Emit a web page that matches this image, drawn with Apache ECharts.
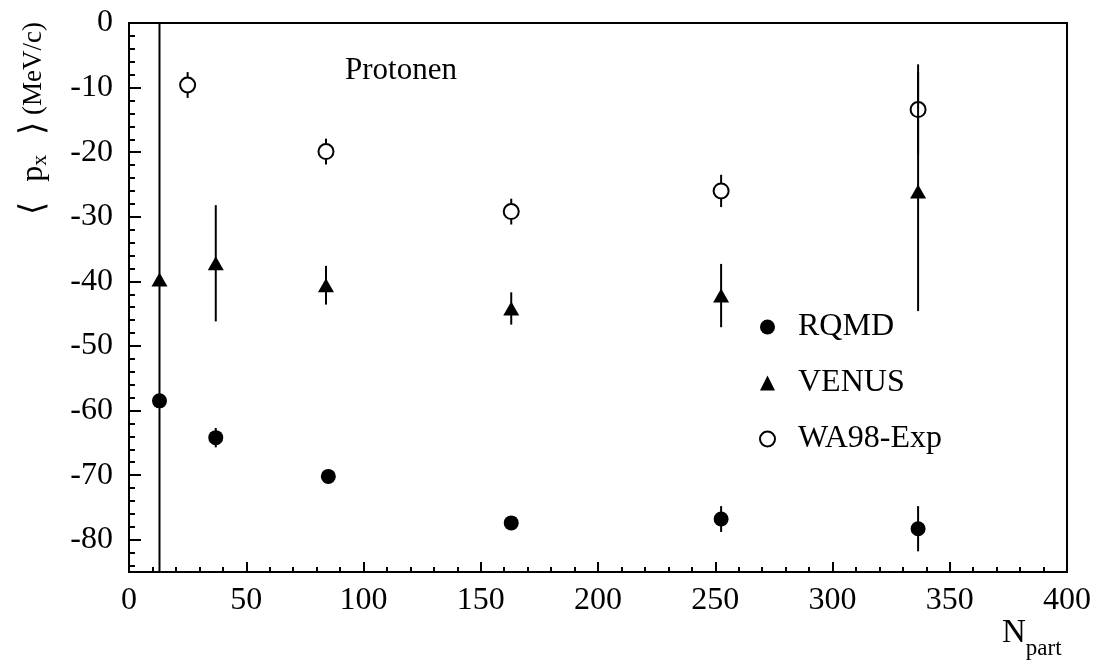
<!DOCTYPE html>
<html>
<head>
<meta charset="utf-8">
<style>
  html, body { margin: 0; padding: 0; background: #fff; }
  #chart { width: 1098px; height: 671px; }
</style>
<script src="https://cdn.jsdelivr.net/npm/echarts@6/dist/echarts.min.js"></script>
</head>
<body>
<div id="chart"></div>
<script>
// Mean transverse momentum <p_x> of protons versus number of participants
const rqmdX   = [13, 37, 85, 163, 252.5, 336.5];
const rqmdY   = [-58.5, -64.2, -70.2, -77.4, -76.8, -78.3];
const rqmdErr = [1.0, 1.5, 0.8, 0.8, 2.0, 3.5];

const venusX   = [13, 37, 84, 163, 252.5, 336.5];
const venusY   = [-39.7, -37.2, -40.6, -44.2, -42.2, -26.1];
const venusErr = [60, 9.0, 3.0, 2.5, 4.9, 18.5];

const wa98X   = [25, 84, 163, 252.5, 336.5];
const wa98Y   = [-9.6, -19.9, -29.2, -26.0, -13.4];
const wa98Err = [2.0, 2.0, 2.0, 2.5, 7.0];

const seriesNames = ['RQMD', 'VENUS', 'WA98-Exp'];

// axis ranges and tick positions
const xMin = 0, xMax = 400, xStep = 50;
const yMin = -85, yMax = 0;
const yMajorTicks = [-80, -70, -60, -50, -40, -30, -20, -10, 0];
const yMinorTicks = [];
for (let v = -84; v < 0; v += 2) { if (v % 10 !== 0) yMinorTicks.push(v); }

const FONT = '"Liberation Serif", "Times New Roman", serif';

function points(xs, ys) { return xs.map((x, i) => [x, ys[i]]); }
function errRows(xs, ys, es) { return xs.map((x, i) => [x, ys[i], ys[i] - es[i], ys[i] + es[i]]); }

// vertical error bar, clipped to the plot frame, optionally leaving a gap for an open marker
function errRender(gap) {
  return function (params, api) {
    const x = api.value(0), y = api.value(1), lo = api.value(2), hi = api.value(3);
    const c = api.coord([x, y]);
    const top = api.coord([x, hi]);
    const bot = api.coord([x, lo]);
    const cs = params.coordSys;
    const y0 = Math.max(top[1], cs.y);
    const y1 = Math.min(bot[1], cs.y + cs.height);
    const style = { stroke: '#000', lineWidth: 2, fill: null };
    const segs = [];
    if (gap > 0) {
      if (c[1] - gap > y0) segs.push([y0, c[1] - gap]);
      if (c[1] + gap < y1) segs.push([c[1] + gap, y1]);
    } else {
      segs.push([y0, y1]);
    }
    return {
      type: 'group',
      children: segs.map(s => ({
        type: 'line',
        shape: { x1: c[0], y1: s[0], x2: c[0], y2: s[1] },
        style: style
      }))
    };
  };
}

const chart = echarts.init(document.getElementById('chart'), null, { renderer: 'canvas' });

chart.setOption({
  backgroundColor: '#fff',
  animation: false,
  textStyle: { fontFamily: FONT, color: '#000' },
  grid: {
    left: 129, right: 31, top: 23, bottom: 99,
    containLabel: false,
    show: true, borderColor: '#000', borderWidth: 2, backgroundColor: 'transparent'
  },
  xAxis: {
    type: 'value', min: xMin, max: xMax, interval: xStep,
    axisLine: { show: true, onZero: false, lineStyle: { color: '#000', width: 2 } },
    axisTick: { show: true, inside: true, length: 10, lineStyle: { color: '#000', width: 2 } },
    minorTick: { show: true, splitNumber: 5, length: 5, lineStyle: { color: '#000', width: 2 } },
    splitLine: { show: false },
    axisLabel: { color: '#000', fontSize: 32, fontFamily: FONT, margin: 13 }
  },
  yAxis: [
    {
      type: 'value', min: yMin, max: yMax,
      axisLine: { show: true, onZero: false, lineStyle: { color: '#000', width: 2 } },
      axisTick: { show: true, inside: true, length: 12, customValues: yMajorTicks,
                  lineStyle: { color: '#000', width: 2 } },
      splitLine: { show: false },
      axisLabel: { color: '#000', fontSize: 32, fontFamily: FONT, margin: 16, customValues: yMajorTicks }
    },
    {
      type: 'value', min: yMin, max: yMax, position: 'left', offset: 0,
      axisLine: { show: false },
      axisTick: { show: true, inside: true, length: 6, customValues: yMinorTicks,
                  lineStyle: { color: '#000', width: 2 } },
      splitLine: { show: false },
      axisLabel: { show: false }
    }
  ],
  legend: {
    orient: 'vertical', left: 759, top: 311, itemGap: 24, padding: 0,
    itemWidth: 15, itemHeight: 15,
    textStyle: { fontSize: 32, fontFamily: FONT, color: '#000', padding: [0, 0, 0, 18] },
    data: [
      { name: seriesNames[0], icon: 'circle' },
      { name: seriesNames[1], icon: 'triangle' },
      { name: seriesNames[2], icon: 'circle' }
    ]
  },
  graphic: [
    {
      type: 'text', left: 345, top: 55,
      style: { text: 'Protonen', font: '31px ' + FONT, fill: '#000' }
    },
    {
      // y-axis title, aligned to the top end of the axis
      type: 'text', x: 34, y: 22, rotation: Math.PI / 2,
      style: {
        text: '{b|\u27E8}{g| }{p|p}{s|x}{g| }{b|\u27E9}{a| (MeV/c)}',
        align: 'right', verticalAlign: 'middle', fill: '#000',
        rich: {
          a: { fontSize: 27, fontFamily: FONT, fill: '#000' },
          p: { fontSize: 32, fontFamily: FONT, fill: '#000' },
          b: { fontSize: 34, fontFamily: FONT, fill: '#000' },
          g: { fontSize: 27, fontFamily: FONT, fill: '#000', width: 20 },
          s: { fontSize: 22, fontFamily: FONT, fill: '#000', padding: [13, 0, 0, 0] }
        }
      }
    },
    {
      type: 'text', left: 1002, top: 617,
      style: {
        text: '{a|N}{s|part}',
        fill: '#000',
        rich: {
          a: { fontSize: 33, fontFamily: FONT, fill: '#000' },
          s: { fontSize: 23, fontFamily: FONT, fill: '#000', padding: [30, 0, 0, 0] }
        }
      }
    }
  ],
  series: [
    {
      type: 'custom', name: 'RQMD-err', renderItem: errRender(0), z: 2,
      encode: { x: 0, y: 1 }, data: errRows(rqmdX, rqmdY, rqmdErr), silent: true
    },
    {
      type: 'custom', name: 'VENUS-err', renderItem: errRender(0), z: 2,
      encode: { x: 0, y: 1 }, data: errRows(venusX, venusY, venusErr), silent: true
    },
    {
      type: 'custom', name: 'WA98-err', renderItem: errRender(8), z: 2,
      encode: { x: 0, y: 1 }, data: errRows(wa98X, wa98Y, wa98Err), silent: true
    },
    {
      type: 'scatter', name: seriesNames[0], z: 3,
      symbol: 'circle', symbolSize: 15,
      itemStyle: { color: '#000', opacity: 1 },
      data: points(rqmdX, rqmdY)
    },
    {
      type: 'scatter', name: seriesNames[1], z: 3,
      symbol: 'triangle', symbolSize: [16, 14],
      itemStyle: { color: '#000', opacity: 1 },
      data: points(venusX, venusY)
    },
    {
      type: 'scatter', name: seriesNames[2], z: 3,
      symbol: 'circle', symbolSize: 15,
      itemStyle: { color: 'rgba(0,0,0,0)', borderColor: '#000', borderWidth: 2, opacity: 1 },
      data: points(wa98X, wa98Y)
    }
  ]
});
</script>
</body>
</html>
